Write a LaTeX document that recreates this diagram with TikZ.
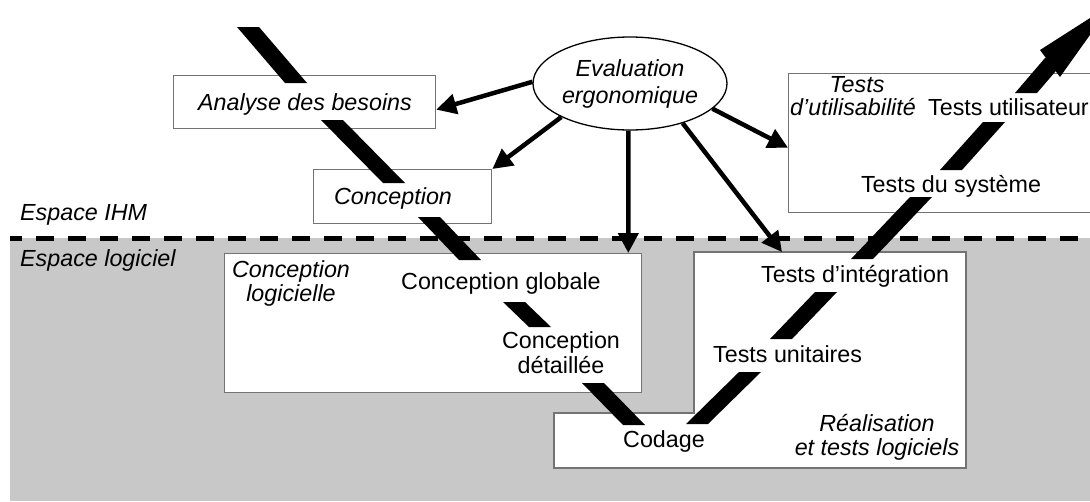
\documentclass[tikz,border=0pt]{standalone}
\usepackage{fontspec}
\setmainfont{Liberation Sans}
\usetikzlibrary{shapes.geometric,arrows.meta}
\definecolor{zonegray}{RGB}{200,200,200}
\definecolor{framegray}{RGB}{115,115,115}
\tikzset{
  lbl/.style={inner sep=0pt, font=\fontsize{23.3pt}{24pt}\selectfont},
  ilbl/.style={inner sep=0pt, font=\fontsize{23.3pt}{24pt}\selectfont\itshape},
  stagebox/.style={draw=framegray, line width=1.3pt, fill=white, inner sep=0pt, anchor=north west},
  evalarrow/.style={line width=4.5pt, -{Triangle[length=20pt,width=20pt]}},
  band/.style={fill=black},
}
% one visible piece of the V-cycle band, cut horizontally at both ends
\newcommand\bandpiece[4]{\fill[band] ({#1-11},#2) -- ({#1+11},#2) -- ({#3+11},#4) -- ({#3-11},#4) -- cycle;}

\begin{document}
\begin{tikzpicture}[x=1pt,y=-1pt]
\useasboundingbox (0,0) rectangle (1090,501);
\clip (0,0) rectangle (1090,501);

% software zone and its border
\fill[zonegray] (10,238) rectangle (1090,501);
\draw[line width=5pt, dash pattern=on 18pt off 14pt, dash phase=6pt] (10,238) -- (1090,238);

% stage boxes
\node[stagebox, minimum width=262pt, minimum height=53pt] (analyse) at (173,75) {};
\node[stagebox, minimum width=178pt, minimum height=54pt] (concep) at (313,169) {};
\node[stagebox, minimum width=330pt, minimum height=139pt] (tests) at (788,73) {};
\node[stagebox, minimum width=417pt, minimum height=139pt] (conclog) at (224,253) {};
\draw[draw=framegray, line width=1.3pt, fill=white]
  (694,252) -- (966,252) -- (966,468) -- (554,468) -- (554,413) -- (694,413) -- cycle;
\coordinate (realtop) at (782,252);

% ergonomic evaluation
\node[ellipse, draw, line width=1.3pt, fill=white, minimum width=194pt, minimum height=93pt,
      inner sep=0pt, align=center, font=\fontsize{23.3pt}{27pt}\selectfont\itshape]
  (eval) at (630,83.5) {Evaluation\\ergonomique};

\draw[evalarrow] (eval.179) -- ([yshift=-7.5pt]analyse.east);
\draw[evalarrow] (eval.206.6) -- (concep.north east);
\draw[evalarrow] (eval.268) -- ([xshift=-14pt]conclog.north east);
\draw[evalarrow] (eval.-37) -- (realtop);
\draw[evalarrow] (eval.-17) -- ([yshift=-4.5pt]tests.west);

% descending branch of the V
\bandpiece{248}{27}{296}{83}
\bandpiece{332}{120}{394}{183}
\bandpiece{429}{217}{470}{260}
\bandpiece{514}{302}{540}{327}
\bandpiece{593}{383}{634}{425}
% ascending branch of the V
\bandpiece{750}{372}{697}{424}
\bandpiece{826}{292}{781}{339}
\bandpiece{921}{197}{862}{259}
\bandpiece{994}{122}{951}{170}
\bandpiece{1056}{58}{1026}{93}
\fill[band] (1040,50) -- (1112,4) -- (1060,77) -- cycle;

% labels (multi-line ones are placed by the baseline of their last line)
\node[ilbl, anchor=base west] (ihm) at (20,220) {Espace IHM};
\node[ilbl, anchor=base west] (logi) at (20,266) {Espace logiciel};
\node[ilbl, anchor=base] (analyselbl) at (305,110) {Analyse des besoins};
\node[ilbl, anchor=base] (conceplbl) at (393,204) {Conception};
\node[ilbl, anchor=base] (testslbl) at (857,92) {Tests};
\node[ilbl, anchor=base] (utillbl) at (853,115) {d’utilisabilité};
\node[lbl, anchor=base west] (userlbl) at (928,115) {Tests utilisateur};
\node[lbl, anchor=base] (syslbl) at (951,192) {Tests du système};
\node[ilbl, anchor=base, align=center] (conclbl) at (291,301) {Conception\\logicielle};
\node[lbl, anchor=base west] (globlbl) at (401,289) {Conception globale};
\node[lbl, anchor=base, align=center] (detlbl) at (561,373) {Conception\\[1pt]détaillée};
\node[lbl, anchor=base] (codlbl) at (664,447) {Codage};
\node[lbl, anchor=base west] (integlbl) at (761,282) {Tests d’intégration};
\node[lbl, anchor=base west] (unitlbl) at (713,362) {Tests unitaires};
\node[ilbl, anchor=base, align=center] (reallbl) at (877,455) {Réalisation\\et tests logiciels};
\end{tikzpicture}
\end{document}
